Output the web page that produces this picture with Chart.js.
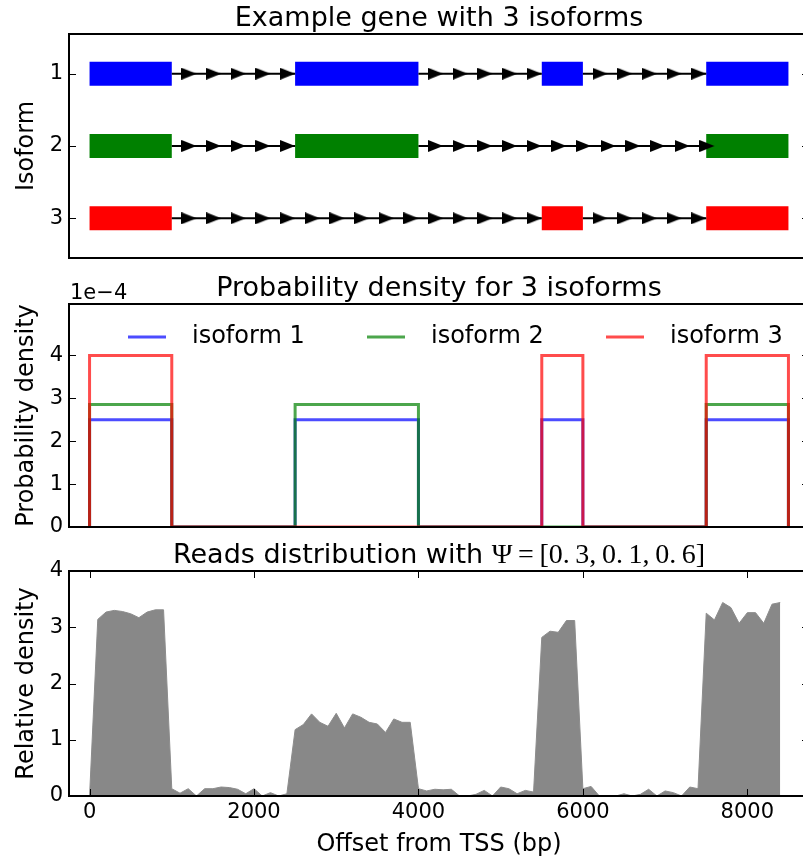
<!DOCTYPE html>
<html>
<head>
<meta charset="utf-8">
<script src="https://cdn.jsdelivr.net/npm/chart.js@4.4.1/dist/chart.umd.min.js"></script>
<style>
html, body { margin: 0; padding: 0; background: #fff; overflow: hidden; }
#wrap { position: relative; width: 803px; height: 863px; overflow: hidden; }
canvas { position: absolute; left: 0; }
</style>
</head>
<body>
<div id="wrap">
  <canvas id="chartGene" width="820" height="280" style="top:0px"></canvas>
  <canvas id="chartDensity" width="820" height="290" style="top:260px"></canvas>
  <canvas id="chartReads" width="820" height="335" style="top:528px"></canvas>
</div>
<script>
// exon structure of the example gene (bp)
const exonStarts = [0, 2500, 5500, 7500];
const exonEnds = [1000, 4000, 6000, 8500];
const isoformNames = ['isoform 1', 'isoform 2', 'isoform 3'];
const isoformRows = [1, 2, 3];
// which exons each isoform keeps
const isoformExons = [
  [1, 1, 1, 1],
  [1, 1, 0, 1],
  [1, 0, 1, 1]
];
// density level of each isoform (per bp)
const isoformDensity = [2.5e-4, 2.857e-4, 4.0e-4];
const arrowStep = 300;

// reads distribution (bottom panel)
const readsOffsets = [
  0, 100, 200, 300, 400, 500, 600, 700, 800, 900,
  1000, 1100, 1200, 1300, 1400, 1500, 1600, 1700, 1800, 1900,
  2000, 2100, 2200, 2300, 2400, 2500, 2600, 2700, 2800, 2900,
  3000, 3100, 3200, 3300, 3400, 3500, 3600, 3700, 3800, 3900,
  4000, 4100, 4200, 4300, 4400, 4500, 4600, 4700, 4800, 4900,
  5000, 5100, 5200, 5300, 5400, 5500, 5600, 5700, 5800, 5900,
  6000, 6100, 6200, 6300, 6400, 6500, 6600, 6700, 6800, 6900,
  7000, 7100, 7200, 7300, 7400, 7500, 7600, 7700, 7800, 7900,
  8000, 8100, 8200, 8300, 8400
];
const readsDensity = [
  0, 3.14, 3.27, 3.30, 3.28, 3.24, 3.17, 3.27, 3.31, 3.31,
  0.13, 0.05, 0.13, 0.00, 0.13, 0.13, 0.16, 0.15, 0.12, 0.04,
  0.13, 0.00, 0.06, 0.00, 0.04, 1.18, 1.27, 1.46, 1.31, 1.24,
  1.47, 1.21, 1.46, 1.40, 1.31, 1.28, 1.13, 1.37, 1.31, 1.31,
  0.13, 0.09, 0.12, 0.11, 0.12, 0.00, 0.00, 0.03, 0.10, 0.00,
  0.16, 0.13, 0.04, 0.10, 0.07, 2.82, 2.93, 2.91, 3.12, 3.12,
  0.13, 0.17, 0.00, 0.00, 0.00, 0.04, 0.00, 0.03, 0.12, 0.00,
  0.09, 0.06, 0.00, 0.16, 0.13, 3.25, 3.13, 3.44, 3.35, 3.07,
  3.26, 3.26, 3.07, 3.41, 3.44
];

// tick labels
const xTicks = [0, 2000, 4000, 6000, 8000];
const geneTicks = [1, 2, 3];
const densityTicks = [0, 1e-4, 2e-4, 3e-4, 4e-4];
const readsTicks = [0, 1, 2, 3, 4];

const isoformColors = ['#0000ff', '#008000', '#ff0000'];
const densityColors = ['rgba(0,0,255,0.7)', 'rgba(0,128,0,0.7)', 'rgba(255,0,0,0.7)'];

const SANS = "'DejaVu Sans', sans-serif";
Chart.defaults.font.family = SANS;
Chart.defaults.color = '#000';

// arrow head image, tip sits at the centre of the canvas
const arrowHead = document.createElement('canvas');
arrowHead.width = 30;
arrowHead.height = 12;
(function() {
  const c = arrowHead.getContext('2d');
  c.fillStyle = '#000';
  c.beginPath();
  c.moveTo(0, 0);
  c.lineTo(15, 6);
  c.lineTo(0, 12);
  c.closePath();
  c.fill();
})();

// titles (may mix fonts) above the plot area
const titlePlugin = {
  id: 'panelTitle',
  afterDraw(chart, args, opts) {
    if (!opts.parts) return;
    const {ctx, chartArea: a} = chart;
    ctx.save();
    ctx.fillStyle = '#000';
    ctx.textBaseline = 'alphabetic';
    let total = 0;
    opts.parts.forEach(p => { ctx.font = p.font; total += ctx.measureText(p.text).width; });
    let x = (a.left + a.right) / 2 - total / 2;
    opts.parts.forEach(p => {
      ctx.font = p.font;
      ctx.fillText(p.text, x, a.top - 8);
      x += ctx.measureText(p.text).width;
    });
    if (opts.offsetText) {
      ctx.font = `21px ${SANS}`;
      ctx.fillText(opts.offsetText, a.left + 1, a.top - 5);
    }
    ctx.restore();
  }
};

// box round the axes plus inward ticks on every side
const framePlugin = {
  id: 'frame',
  afterDraw(chart, args, opts) {
    const {ctx, chartArea: a} = chart;
    ctx.save();
    ctx.strokeStyle = '#000';
    ctx.lineWidth = 1;
    const seg = (x1, y1, x2, y2) => { ctx.beginPath(); ctx.moveTo(x1, y1); ctx.lineTo(x2, y2); ctx.stroke(); };
    const ys = chart.scales.y;
    ys.ticks.forEach(t => {
      const py = Math.round(ys.getPixelForValue(t.value)) + 0.5;
      seg(a.left, py, a.left + 7, py);
      seg(a.right - 7, py, a.right, py);
    });
    if (opts.xTicks) {
      const xs = chart.scales.x;
      xs.ticks.forEach(t => {
        const px = Math.round(xs.getPixelForValue(t.value)) + 0.5;
        seg(px, a.bottom, px, a.bottom - 7);
        seg(px, a.top, px, a.top + 7);
      });
    }
    ctx.lineWidth = 2;
    ctx.strokeRect(a.left, a.top, a.right - a.left, a.bottom - a.top);
    ctx.restore();
  }
};

// legend drawn inside the density panel
const lineLegendPlugin = {
  id: 'lineLegend',
  afterDraw(chart, args, opts) {
    if (!opts.show) return;
    const {ctx, chartArea: a} = chart;
    ctx.save();
    ctx.font = `24px ${SANS}`;
    ctx.textBaseline = 'middle';
    ctx.fillStyle = '#000';
    const y = a.top + 33;
    isoformNames.forEach((name, i) => {
      const x0 = a.left + 59 + i * 239;
      ctx.strokeStyle = densityColors[i];
      ctx.lineWidth = 3;
      ctx.beginPath();
      ctx.moveTo(x0, y);
      ctx.lineTo(x0 + 38, y);
      ctx.stroke();
      ctx.fillText(name, x0 + 64, y);
    });
    ctx.restore();
  }
};

function yAxis(extra) {
  return Object.assign({
    type: 'linear',
    afterFit: s => { s.width = 69; },
    grid: { display: false, drawTicks: false },
    border: { display: false },
    ticks: { padding: 6, font: { size: 21 }, color: '#000' }
  }, extra);
}

// ---- panel 1: gene structure ----
const geneDatasets = [];
isoformRows.forEach((row, k) => {
  const boxes = [], introns = [], heads = [];
  let prevEnd = null;
  exonStarts.forEach((s, j) => {
    if (!isoformExons[k][j]) return;
    boxes.push({x: s, y: row}, {x: exonEnds[j], y: row}, {x: exonEnds[j], y: null});
    if (prevEnd !== null) {
      introns.push({x: prevEnd, y: row}, {x: s, y: row}, {x: s, y: null});
      for (let x = prevEnd + arrowStep; x < s + arrowStep; x += arrowStep) heads.push({x: x, y: row});
    }
    prevEnd = exonEnds[j];
  });
  geneDatasets.push({
    data: boxes, borderColor: isoformColors[k], borderWidth: 24, borderCapStyle: 'butt',
    pointRadius: 0, order: 3
  });
  geneDatasets.push({
    data: introns, borderColor: '#000', borderWidth: 2, pointRadius: 0, order: 2
  });
  geneDatasets.push({
    data: heads, showLine: false, pointStyle: arrowHead, pointRadius: 5, order: 1
  });
});

new Chart(document.getElementById('chartGene'), {
  type: 'line',
  data: { datasets: geneDatasets },
  options: {
    responsive: false,
    animation: false,
    layout: { padding: { top: 34, bottom: 22, left: 0, right: 11 } },
    plugins: {
      legend: { display: false },
      tooltip: { enabled: false },
      panelTitle: { parts: [{ text: 'Example gene with 3 isoforms', font: `27px ${SANS}` }] },
      frame: {}
    },
    scales: {
      x: { type: 'linear', min: -250, max: 8750, display: false },
      y: yAxis({
        min: 0.45, max: 3.55, reverse: true,
        afterBuildTicks: s => { s.ticks = geneTicks.map(v => ({ value: v })); },
        title: { display: true, text: 'Isoform', font: { size: 24 }, color: '#000', padding: { top: 12, bottom: 0 } }
      })
    }
  },
  plugins: [titlePlugin, framePlugin]
});

// ---- panel 2: probability density ----
function stepSeries(k) {
  const pts = [];
  exonStarts.forEach((s, j) => {
    const v = isoformExons[k][j] ? isoformDensity[k] : 0;
    pts.push({x: s, y: 0}, {x: s, y: v}, {x: exonEnds[j], y: v}, {x: exonEnds[j], y: 0});
  });
  return pts;
}

new Chart(document.getElementById('chartDensity'), {
  type: 'line',
  data: {
    datasets: isoformNames.map((name, k) => ({
      label: name,
      data: stepSeries(k),
      borderColor: densityColors[k],
      borderWidth: 3,
      borderJoinStyle: 'miter',
      pointRadius: 0,
      order: 3 - k
    }))
  },
  options: {
    responsive: false,
    animation: false,
    layout: { padding: { top: 44, bottom: 23, left: 0, right: 11 } },
    plugins: {
      legend: { display: false },
      tooltip: { enabled: false },
      panelTitle: {
        parts: [{ text: 'Probability density for 3 isoforms', font: `27px ${SANS}` }],
        offsetText: '1e\u22124'
      },
      frame: {},
      lineLegend: { show: true }
    },
    scales: {
      x: { type: 'linear', min: -250, max: 8750, display: false },
      y: yAxis({
        min: 0, max: 5.2e-4,
        afterBuildTicks: s => { s.ticks = densityTicks.map(v => ({ value: v })); },
        ticks: { padding: 6, font: { size: 21 }, color: '#000', callback: v => String(Math.round(v * 1e4)) },
        title: { display: true, text: 'Probability density', font: { size: 24 }, color: '#000', padding: { top: 12, bottom: 0 } }
      })
    }
  },
  plugins: [titlePlugin, framePlugin, lineLegendPlugin]
});

// ---- panel 3: reads distribution ----
new Chart(document.getElementById('chartReads'), {
  type: 'line',
  data: {
    datasets: [{
      data: readsOffsets.map((x, i) => ({ x: x, y: readsDensity[i] })),
      borderColor: '#8c8c8c',
      borderWidth: 1,
      backgroundColor: '#888888',
      fill: 'origin',
      pointRadius: 0,
      tension: 0
    }]
  },
  options: {
    responsive: false,
    animation: false,
    layout: { padding: { top: 43, bottom: 0, left: 0, right: 11 } },
    plugins: {
      legend: { display: false },
      tooltip: { enabled: false },
      filler: { propagate: false },
      panelTitle: {
        parts: [
          { text: 'Reads distribution with ', font: `27px ${SANS}` },
          { text: '\u03A8\u2009=\u2009[0.\u20093,\u20090.\u20091,\u20090.\u20096]', font: "28px 'Liberation Serif', serif" }
        ]
      },
      frame: { xTicks: true }
    },
    scales: {
      x: {
        type: 'linear', min: -250, max: 8750,
        afterBuildTicks: s => { s.ticks = xTicks.map(v => ({ value: v })); },
        afterFit: s => { s.height = 67; },
        grid: { display: false, drawTicks: false },
        border: { display: false },
        ticks: { padding: 4, font: { size: 21 }, color: '#000', maxRotation: 0, callback: v => String(v) },
        title: { display: true, text: 'Offset from TSS (bp)', font: { size: 24 }, color: '#000', padding: { top: 0, bottom: 4 } }
      },
      y: yAxis({
        min: 0, max: 4,
        afterBuildTicks: s => { s.ticks = readsTicks.map(v => ({ value: v })); },
        title: { display: true, text: 'Relative density', font: { size: 24 }, color: '#000', padding: { top: 12, bottom: 0 } }
      })
    }
  },
  plugins: [titlePlugin, framePlugin]
});
</script>
</body>
</html>
